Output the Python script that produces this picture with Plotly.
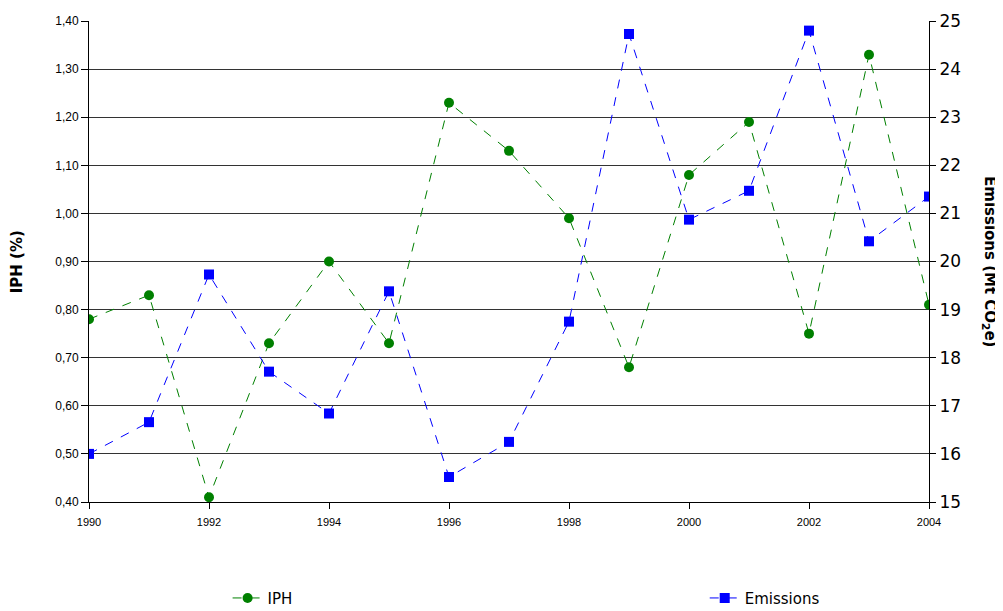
import plotly.graph_objects as go

years = list(range(1990, 2005))
iph = [0.78, 0.83, 0.41, 0.73, 0.90, 0.73, 1.23, 1.13, 0.99, 0.68, 1.08, 1.19, 0.75, 1.33, 0.81]
emissions = [16.00, 16.66, 19.73, 17.71, 16.84, 19.38, 15.52, 16.25, 18.75, 24.73,
             20.87, 21.47, 24.80, 20.42, 21.35]

fig = go.Figure()
fig.add_trace(go.Scatter(
    x=years, y=iph, name="IPH", mode="lines+markers", legend="legend",
    line=dict(color="#008000", width=1, dash="dash"),
    marker=dict(symbol="circle", size=10, color="#008000"),
))
fig.add_trace(go.Scatter(
    x=years, y=emissions, name="Emissions", mode="lines+markers", yaxis="y2",
    legend="legend2",
    line=dict(color="#0000FF", width=1, dash="dash"),
    marker=dict(symbol="square", size=10, color="#0000FF"),
))

legend_font = dict(family="DejaVu Sans, Verdana, sans-serif", size=15, color="black")

# the page body has an 8px margin, so the figure is a bit smaller than the window
fig.update_layout(
    width=995, height=603,
    margin=dict(l=81, r=74, t=13, b=109, autoexpand=False),
    paper_bgcolor="white", plot_bgcolor="white",
    separators=", ",
    font=dict(family="Liberation Sans, Arial, sans-serif", size=11, color="black"),
    xaxis=dict(
        range=[1990, 2004], dtick=2, tick0=1990, showgrid=False,
        showline=True, linecolor="black", linewidth=1,
        ticks="outside", ticklen=6, tickcolor="black", ticklabelstandoff=4,
        tickfont=dict(size=11), zeroline=False, automargin=False,
    ),
    yaxis=dict(
        range=[0.4, 1.4], dtick=0.1, tickformat=".2f",
        showgrid=True, gridcolor="#333333", gridwidth=1,
        showline=True, linecolor="black", linewidth=1,
        ticks="outside", ticklen=7, tickcolor="black",
        tickfont=dict(size=12), zeroline=False, automargin=False,
    ),
    yaxis2=dict(
        range=[15, 25], dtick=1, overlaying="y", side="right",
        showgrid=False, showline=True, linecolor="black", linewidth=1,
        ticks="outside", ticklen=6, tickcolor="black",
        tickfont=dict(family="DejaVu Sans, Verdana, sans-serif", size=17),
        zeroline=False, automargin=False,
    ),
    showlegend=True,
    legend=dict(
        orientation="h", x=0.165, xanchor="left", y=-0.2, yanchor="middle",
        font=legend_font, bgcolor="rgba(0,0,0,0)",
    ),
    legend2=dict(
        orientation="h", x=0.733, xanchor="left", y=-0.2, yanchor="middle",
        font=legend_font, bgcolor="rgba(0,0,0,0)",
    ),
    annotations=[
        dict(text="<b>IPH (%)</b>", xref="paper", yref="paper", x=-0.086, y=0.5,
             xanchor="center", yanchor="middle", showarrow=False, textangle=-90,
             font=dict(family="DejaVu Sans, Verdana, sans-serif", size=15)),
        dict(text="<b>Emissions (Mt CO<sub>2</sub>e)</b>", xref="paper", yref="paper",
             x=1.072, y=0.5, xanchor="center", yanchor="middle", showarrow=False,
             textangle=90,
             font=dict(family="DejaVu Sans, Verdana, sans-serif", size=15)),
    ],
)

fig.write_html("out.html")
